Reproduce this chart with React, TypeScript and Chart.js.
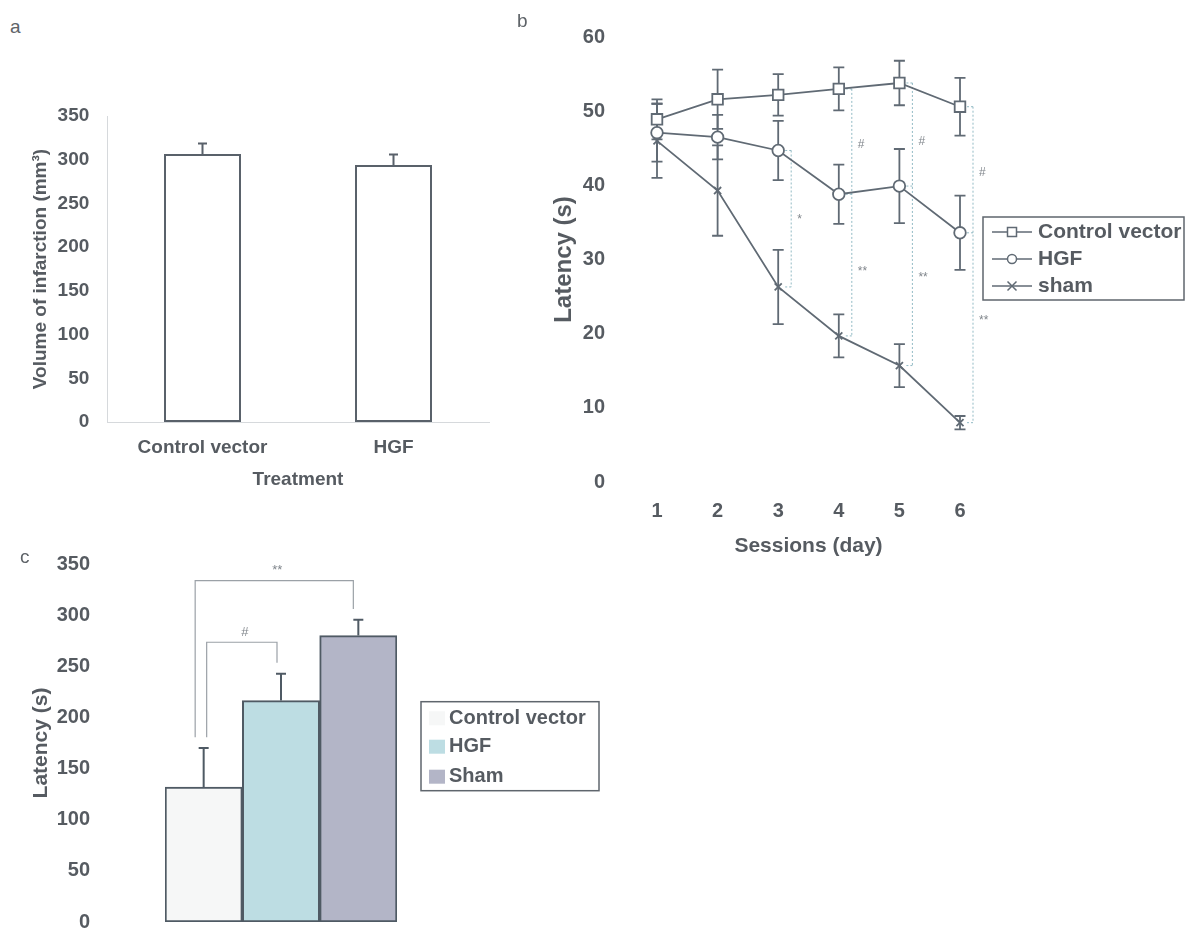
import React, { useEffect, useRef } from 'react';
import { Chart, registerables } from 'chart.js';

Chart.register(...registerables);

const FONT_FAMILY = '"Liberation Sans", Arial, Helvetica, sans-serif';
const TEXT_COLOR = '#565b61';
const INK = '#606a74';

// ---------------- Panel a data ----------------
const aCategories = ['Control vector', 'HGF'];
const aVolume = [306.5, 294];
const aVolumeErr = [12, 12];
const aYMax = 350;
const aYStep = 50;

// ---------------- Panel b data ----------------
const bSessions = ['1', '2', '3', '4', '5', '6'];
const bSeriesNames = ['Control vector', 'HGF', 'sham'];
const bControl = [48.9, 51.6, 52.2, 53.0, 53.8, 50.6];
const bControlErr = [2.7, 4.0, 2.8, 2.9, 3.0, 3.9];
const bHGF = [47.1, 46.5, 44.7, 38.8, 39.9, 33.6];
const bHGFErr = [3.9, 3.0, 4.0, 4.0, 5.0, 5.0];
const bSham = [46.0, 39.3, 26.3, 19.7, 15.7, 8.0];
const bShamErr = [5.0, 6.1, 5.0, 2.9, 2.9, 0.9];
const bYMax = 60;
const bYStep = 10;
// significance brackets (session index, series indices joined)
const bBracketDay = [2, 3, 4, 5];
const bBracketSeries = [[1, 2], [0, 1, 2], [0, 1, 2], [0, 1, 2]];
const bSigDay = [2, 3, 3, 4, 4, 5, 5];
const bSigText = ['*', '#', '**', '#', '**', '#', '**'];
const bSigValue = [35.4, 45.5, 28.4, 45.9, 27.5, 41.7, 21.7];

// ---------------- Panel c data ----------------
const cGroups = ['Control vector', 'HGF', 'Sham'];
const cLatency = [132, 216.5, 280];
const cLatencyErr = [38, 26.3, 15.6];
const cYMax = 350;
const cYStep = 50;
const cBracketFrom = [0, 0];
const cBracketTo = [2, 1];
const cBracketTop = [333.8, 273.5];
const cBracketFromBottom = [180.5, 180.5];
const cBracketToBottom = [306, 253.5];
const cBracketText = ['**', '#'];

// ---------------- helpers ----------------
const font = (size: number, weight: any = 'bold') => ({ family: FONT_FAMILY, size, weight });

function drawErrorBars(chart: any, o: any) {
  const ctx = chart.ctx;
  const ys = chart.scales.y;
  chart.data.datasets.forEach((ds: any, i: number) => {
    const errs = ds.errorBars;
    if (!errs) return;
    const meta = chart.getDatasetMeta(i);
    meta.data.forEach((el: any, j: number) => {
      const v = ds.data[j];
      const e = errs[j];
      const top = ys.getPixelForValue(v + e);
      const bot = o.upOnly ? ys.getPixelForValue(v) : ys.getPixelForValue(v - e);
      ctx.save();
      ctx.strokeStyle = o.color;
      ctx.lineWidth = o.width;
      ctx.beginPath();
      ctx.moveTo(el.x, top);
      ctx.lineTo(el.x, bot);
      ctx.moveTo(el.x - o.cap, top);
      ctx.lineTo(el.x + o.cap, top);
      if (!o.upOnly) {
        ctx.moveTo(el.x - o.cap, bot);
        ctx.lineTo(el.x + o.cap, bot);
      }
      ctx.stroke();
      ctx.restore();
    });
  });
}

const errorBarPlugin = {
  id: 'errorBars',
  beforeDatasetsDraw(chart: any, _a: any, o: any) {
    if (o.below) drawErrorBars(chart, o);
  },
  afterDatasetsDraw(chart: any, _a: any, o: any) {
    if (!o.below) drawErrorBars(chart, o);
  },
};

function drawMarker(ctx: any, style: string, x: number, y: number, r: number, color: string, lw: number) {
  ctx.save();
  ctx.strokeStyle = color;
  ctx.fillStyle = '#ffffff';
  ctx.lineWidth = lw;
  ctx.beginPath();
  if (style === 'rect') {
    ctx.rect(x - r, y - r, 2 * r, 2 * r);
    ctx.fill();
    ctx.stroke();
  } else if (style === 'circle') {
    ctx.arc(x, y, r, 0, Math.PI * 2);
    ctx.fill();
    ctx.stroke();
  } else {
    ctx.moveTo(x - r, y - r);
    ctx.lineTo(x + r, y + r);
    ctx.moveTo(x + r, y - r);
    ctx.lineTo(x - r, y + r);
    ctx.stroke();
  }
  ctx.restore();
}

const legendBPlugin = {
  id: 'legendB',
  afterDraw(chart: any, _a: any, o: any) {
    const ctx = chart.ctx;
    ctx.save();
    ctx.strokeStyle = o.boxColor;
    ctx.lineWidth = 1.5;
    ctx.strokeRect(o.x, o.y, o.w, o.h);
    chart.data.datasets.forEach((ds: any, i: number) => {
      const y = o.rows[i];
      ctx.strokeStyle = ds.borderColor;
      ctx.lineWidth = 1.5;
      ctx.beginPath();
      ctx.moveTo(o.lineX0, y);
      ctx.lineTo(o.lineX1, y);
      ctx.stroke();
      drawMarker(ctx, ds.pointStyle, (o.lineX0 + o.lineX1) / 2, y, o.markerR, ds.borderColor, 1.5);
      ctx.fillStyle = o.textColor;
      ctx.font = `bold ${o.fontSize}px ${FONT_FAMILY}`;
      ctx.textBaseline = 'middle';
      ctx.textAlign = 'left';
      ctx.fillText(ds.label, o.textX, y);
    });
    ctx.restore();
  },
};

const bracketsBPlugin = {
  id: 'bracketsB',
  beforeDatasetsDraw(chart: any, _a: any, o: any) {
    const ctx = chart.ctx;
    const xs = chart.scales.x;
    const ys = chart.scales.y;
    ctx.save();
    ctx.strokeStyle = o.color;
    ctx.lineWidth = 1;
    ctx.setLineDash([2, 2]);
    bBracketDay.forEach((d, k) => {
      const px = xs.getPixelForValue(d);
      const bx = px + o.offset;
      const levels = bBracketSeries[k].map((si) => ys.getPixelForValue(chart.data.datasets[si].data[d]));
      const top = Math.min(...levels);
      const bot = Math.max(...levels);
      ctx.beginPath();
      ctx.moveTo(bx, top);
      ctx.lineTo(bx, bot);
      levels.forEach((ly: number) => {
        ctx.moveTo(px + o.gap, ly);
        ctx.lineTo(bx, ly);
      });
      ctx.stroke();
    });
    ctx.restore();
  },
  afterDatasetsDraw(chart: any, _a: any, o: any) {
    const ctx = chart.ctx;
    const xs = chart.scales.x;
    const ys = chart.scales.y;
    ctx.save();
    ctx.fillStyle = o.textColor;
    ctx.font = `${o.fontSize}px ${FONT_FAMILY}`;
    ctx.textBaseline = 'middle';
    ctx.textAlign = 'left';
    bSigDay.forEach((d, k) => {
      ctx.fillText(bSigText[k], xs.getPixelForValue(d) + o.offset + o.textGap, ys.getPixelForValue(bSigValue[k]));
    });
    ctx.restore();
  },
};

const bracketsCPlugin = {
  id: 'bracketsC',
  afterDatasetsDraw(chart: any, _a: any, o: any) {
    const ctx = chart.ctx;
    const ys = chart.scales.y;
    const cx = (i: number) => chart.getDatasetMeta(i).data[0].x;
    ctx.save();
    ctx.strokeStyle = o.color;
    ctx.lineWidth = 1.2;
    cBracketFrom.forEach((f, k) => {
      const x0 = cx(f) + o.fromOffset[k];
      const x1 = cx(cBracketTo[k]) + o.toOffset[k];
      const yt = ys.getPixelForValue(cBracketTop[k]);
      ctx.beginPath();
      ctx.moveTo(x0, ys.getPixelForValue(cBracketFromBottom[k]));
      ctx.lineTo(x0, yt);
      ctx.lineTo(x1, yt);
      ctx.lineTo(x1, ys.getPixelForValue(cBracketToBottom[k]));
      ctx.stroke();
      ctx.fillStyle = o.textColor;
      ctx.font = `${o.fontSize}px ${FONT_FAMILY}`;
      ctx.textAlign = 'center';
      ctx.textBaseline = 'middle';
      ctx.fillText(cBracketText[k], (x0 + x1) / 2 + 3, yt - 10);
    });
    ctx.restore();
  },
};

const legendCPlugin = {
  id: 'legendC',
  afterDraw(chart: any, _a: any, o: any) {
    const ctx = chart.ctx;
    ctx.save();
    ctx.strokeStyle = o.boxColor;
    ctx.lineWidth = 1.5;
    ctx.strokeRect(o.x, o.y, o.w, o.h);
    chart.data.datasets.forEach((ds: any, i: number) => {
      const y = o.rows[i];
      ctx.fillStyle = ds.backgroundColor;
      ctx.fillRect(o.patchX, y - o.patch / 2, o.patch + 2, o.patch);
      ctx.fillStyle = o.textColor;
      ctx.font = `bold ${o.fontSize}px ${FONT_FAMILY}`;
      ctx.textBaseline = 'middle';
      ctx.textAlign = 'left';
      ctx.fillText(ds.label, o.textX, y);
    });
    ctx.restore();
  },
};

const noLegend = { display: false };
const noTooltip = { enabled: false };

// fix a vertical axis width and keep its label padding from shrinking the plot
const fixY = (width: number) => (s: any) => {
  s.width = width;
  s.paddingTop = 10;
  s.paddingBottom = 10;
};

// ---------------- configs ----------------
function configA(): any {
  return {
    type: 'bar',
    data: {
      labels: aCategories,
      datasets: [
        {
          label: 'Volume of infarction',
          data: aVolume,
          errorBars: aVolumeErr,
          backgroundColor: '#ffffff',
          borderColor: '#59616a',
          borderWidth: 2,
          borderSkipped: false,
          categoryPercentage: 1,
          barPercentage: 0.403,
        },
      ],
    },
    options: {
      responsive: false,
      animation: false,
      events: [],
      devicePixelRatio: 1,
      layout: { padding: { left: 0, right: 11, top: 56, bottom: 18.6 } },
      plugins: {
        legend: noLegend,
        tooltip: noTooltip,
        errorBars: { upOnly: true, cap: 4.5, color: '#59616a', width: 2, below: false },
      },
      scales: {
        x: {
          grid: { display: false, drawTicks: false },
          border: { display: true, color: '#d6d9dc', width: 1, dash: [3, 3] },
          ticks: { font: font(19), color: TEXT_COLOR, padding: 14.6, maxRotation: 0 },
          title: { display: true, text: 'Treatment', font: font(19), color: TEXT_COLOR, padding: 0 },
          afterFit: (s: any) => {
            s.height = 69.4;
          },
        },
        y: {
          min: 0,
          max: aYMax,
          grid: { display: false, drawTicks: false },
          border: { display: true, color: '#d6d9dc', width: 1, dash: [3, 3] },
          ticks: { stepSize: aYStep, font: font(19), color: TEXT_COLOR, padding: 17.7 },
          title: {
            display: true,
            text: 'Volume of infarction (mm³)',
            font: font(19),
            color: TEXT_COLOR,
            padding: { top: 29.6, bottom: 0 },
          },
          afterFit: fixY(107),
        },
      },
    },
    plugins: [errorBarPlugin],
  };
}

function configB(): any {
  const values = [bControl, bHGF, bSham];
  const errs = [bControlErr, bHGFErr, bShamErr];
  const styles = ['rect', 'circle', 'crossRot'];
  const radii = [7.5, 5.8, 5];
  return {
    type: 'line',
    data: {
      labels: bSessions,
      datasets: bSeriesNames.map((name, i) => ({
        label: name,
        data: values[i],
        errorBars: errs[i],
        borderColor: INK,
        borderWidth: 1.8,
        pointStyle: styles[i],
        pointRadius: radii[i],
        pointBackgroundColor: '#ffffff',
        pointBorderColor: INK,
        pointBorderWidth: 1.8,
        tension: 0,
        fill: false,
      })),
    },
    options: {
      responsive: false,
      animation: false,
      events: [],
      devicePixelRatio: 1,
      layout: { padding: { left: 0, right: 195.7, top: 37, bottom: 20.7 } },
      plugins: {
        legend: noLegend,
        tooltip: noTooltip,
        errorBars: { upOnly: false, cap: 5.5, color: INK, width: 1.8, below: true },
        bracketsB: { color: 'rgba(120,170,182,0.8)', offset: 13, gap: 7, textGap: 6, textColor: '#80868c', fontSize: 12 },
        legendB: {
          x: 483,
          y: 217,
          w: 201,
          h: 83,
          rows: [232, 259, 286],
          lineX0: 492,
          lineX1: 532,
          markerR: 4.5,
          textX: 538,
          fontSize: 21,
          textColor: TEXT_COLOR,
          boxColor: '#5f666d',
        },
      },
      scales: {
        x: {
          type: 'category',
          offset: true,
          grid: { display: false, drawTicks: false },
          border: { display: false },
          ticks: { font: font(20), color: TEXT_COLOR, padding: 17.7, maxRotation: 0 },
          title: { display: true, text: 'Sessions (day)', font: font(21), color: TEXT_COLOR, padding: 0 },
          afterFit: (s: any) => {
            s.height = 77.3;
          },
        },
        y: {
          min: 0,
          max: bYMax,
          grid: { display: false, drawTicks: false },
          border: { display: false },
          ticks: { stepSize: bYStep, font: font(20), color: TEXT_COLOR, padding: 21.7 },
          title: {
            display: true,
            text: 'Latency (s)',
            font: font(24),
            color: TEXT_COLOR,
            padding: { top: 49.6, bottom: 0 },
          },
          afterFit: fixY(126.7),
        },
      },
    },
    plugins: [errorBarPlugin, bracketsBPlugin, legendBPlugin],
  };
}

function configC(): any {
  const fills = ['#f6f7f7', '#bddde3', '#b3b5c7'];
  return {
    type: 'bar',
    data: {
      labels: [''],
      datasets: cGroups.map((g, i) => ({
        label: g,
        data: [cLatency[i]],
        errorBars: [cLatencyErr[i]],
        backgroundColor: fills[i],
        borderColor: '#4f5a64',
        borderWidth: 2,
        borderSkipped: false,
        categoryPercentage: 1,
        barPercentage: 1,
      })),
    },
    options: {
      responsive: false,
      animation: false,
      events: [],
      devicePixelRatio: 1,
      layout: { padding: { left: 0, right: 223, top: 24, bottom: 8 } },
      plugins: {
        legend: noLegend,
        tooltip: noTooltip,
        errorBars: { upOnly: true, cap: 5, color: '#4f5a64', width: 2, below: false },
        bracketsC: { color: '#9ba1a7', fromOffset: [-8.5, 3], toOffset: [-5, -4], textColor: '#80868c', fontSize: 13 },
        legendC: {
          x: 421,
          y: 161.7,
          w: 178,
          h: 89,
          rows: [178.3, 206.7, 236.7],
          patchX: 429,
          patch: 14,
          textX: 449,
          fontSize: 20,
          textColor: TEXT_COLOR,
          boxColor: '#5f666d',
        },
      },
      scales: {
        x: {
          display: false,
          offset: true,
        },
        y: {
          min: 0,
          max: cYMax,
          grid: { display: false, drawTicks: false },
          border: { display: false },
          ticks: { stepSize: cYStep, font: font(20), color: TEXT_COLOR, padding: 75 },
          title: {
            display: true,
            text: 'Latency (s)',
            font: font(21),
            color: TEXT_COLOR,
            padding: { top: 28.9, bottom: 0 },
          },
          afterFit: fixY(165),
        },
      },
    },
    plugins: [errorBarPlugin, bracketsCPlugin, legendCPlugin],
  };
}

function ChartCanvas(props: { left: number; top: number; width: number; height: number; make: () => any }) {
  const ref = useRef<HTMLCanvasElement | null>(null);
  useEffect(() => {
    const chart = new Chart(ref.current as HTMLCanvasElement, props.make());
    return () => chart.destroy();
  }, []);
  return (
    <canvas
      ref={ref}
      width={props.width}
      height={props.height}
      style={{ position: 'absolute', left: props.left, top: props.top, width: props.width, height: props.height }}
    />
  );
}

const letterStyle = (left: number, top: number): any => ({
  position: 'absolute',
  left,
  top,
  fontFamily: FONT_FAMILY,
  fontSize: 19,
  lineHeight: '19px',
  color: '#5e6368',
});

export default function App() {
  return (
    <div style={{ position: 'absolute', left: 0, top: 0, width: 1186, height: 932, background: '#ffffff', overflow: 'hidden' }}>
      <ChartCanvas left={0} top={60} width={500} height={450} make={configA} />
      <ChartCanvas left={500} top={0} width={686} height={580} make={configB} />
      <ChartCanvas left={0} top={540} width={620} height={392} make={configC} />
      <div style={letterStyle(10, 17)}>a</div>
      <div style={letterStyle(517, 11)}>b</div>
      <div style={letterStyle(20, 547)}>c</div>
    </div>
  );
}
